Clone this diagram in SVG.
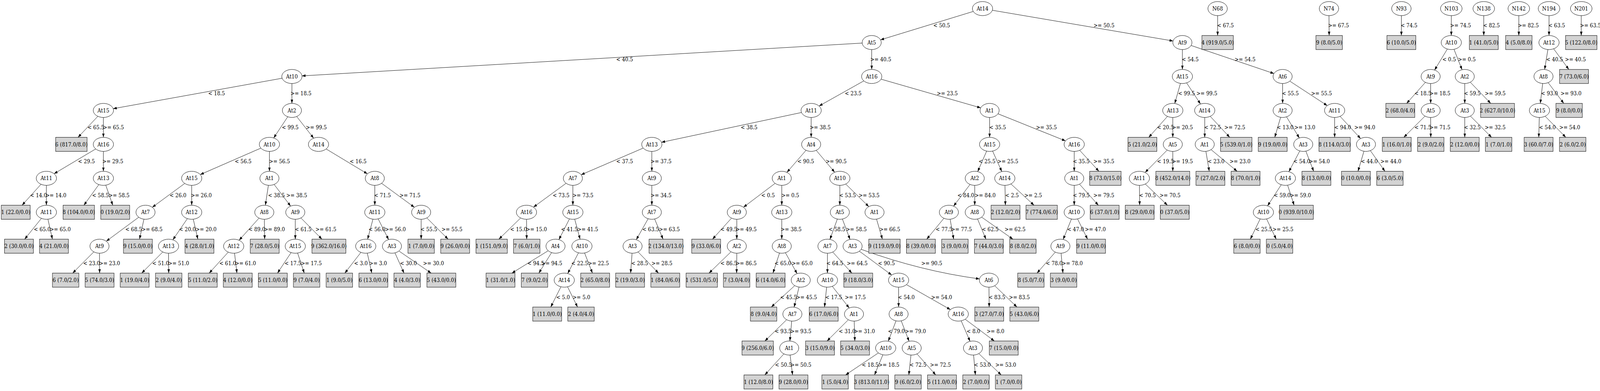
<svg xmlns="http://www.w3.org/2000/svg" width="4519" height="1001" viewBox="0 0 4519 1001">
<style>
text{font-family:"DejaVu Serif","Liberation Serif",serif;font-size:14px;fill:#000}
.n ellipse{fill:#fff;stroke:#000;stroke-width:1}
.n text,.l text{text-anchor:middle}
.l rect{fill:#d3d3d3;stroke:#000;stroke-width:1}
#edges path{fill:none;stroke:#000;stroke-width:1;marker-end:url(#ah)}
</style>
<defs>
<marker id="ah" markerWidth="10" markerHeight="7" refX="10" refY="3.5" orient="auto" markerUnits="userSpaceOnUse"><path d="M0,0 L10,3.5 L0,7 z" fill="#000"/></marker>
</defs>
<rect width="4519" height="1001" fill="#fff"/>
<g id="diagram" transform="scale(0.9064 1)">
<g id="edges">
<path d="M2748.8,29.3 L2486.9,102"/>
<path d="M2802.8,26.3 L3313.2,104.9"/>
<path d="M2435.1,110.3 L853,194.3"/>
<path d="M2462,126.9 L2462,177.8"/>
<path d="M3339.5,126.9 L3339.5,177.8"/>
<path d="M3364,116.4 L3598.1,188.3"/>
<path d="M796.8,200.3 L319.7,278.2"/>
<path d="M824.5,213.8 L824.5,264.7"/>
<path d="M2439.7,207.1 L2313.3,271.4"/>
<path d="M2488.4,202.7 L2769.9,276.1"/>
<path d="M3334,213.5 L3317.9,265"/>
<path d="M3351.4,212.2 L3390.7,266.3"/>
<path d="M3622.6,213.8 L3622.6,264.7"/>
<path d="M3642.8,207.7 L3748.7,270.4"/>
<path d="M276.3,297.8 L220.3,351.6"/>
<path d="M292,300.7 L292,351.6"/>
<path d="M812.7,298.9 L773,353.2"/>
<path d="M838,298.3 L885.9,353.8"/>
<path d="M2263.7,288 L1868.3,364.3"/>
<path d="M2291,300.7 L2291,351.6"/>
<path d="M2795,300.7 L2795,351.6"/>
<path d="M2818.7,291.3 L3009.2,360.6"/>
<path d="M3297.3,298 L3244.4,351.6"/>
<path d="M3312.4,300.7 L3312.4,351.6"/>
<path d="M3402.6,300.7 L3402.6,351.6"/>
<path d="M3418.1,297.8 L3473.2,351.6"/>
<path d="M3616.9,300.3 L3600.4,351.6"/>
<path d="M3633.6,299.1 L3669.8,353.2"/>
<path d="M3769.5,300.7 L3769.5,351.6"/>
<path d="M3784.9,297.9 L3842.8,354.7"/>
<path d="M270.3,381.3 L152.7,444.8"/>
<path d="M292,387.6 L292,438.5"/>
<path d="M736.8,379.2 L565.6,446.9"/>
<path d="M761,387.6 L761,438.5"/>
<path d="M921.2,381.4 L1037.7,445.1"/>
<path d="M1816.7,379.1 L1641.3,447.4"/>
<path d="M1841,387.6 L1841,438.5"/>
<path d="M2276.5,384.8 L2222.5,441.3"/>
<path d="M2305.3,384.9 L2357.5,441"/>
<path d="M2786.7,386.8 L2761.3,439.4"/>
<path d="M2803.5,386.8 L2829.5,439.3"/>
<path d="M3034,387.6 L3034,438.5"/>
<path d="M3049.4,384.8 L3103.8,438.5"/>
<path d="M3296.6,384.2 L3234.1,441.6"/>
<path d="M3312.4,387.6 L3312.4,438.5"/>
<path d="M3405.9,387.5 L3415.4,438.5"/>
<path d="M3420.5,383.1 L3494.1,438.5"/>
<path d="M3671.1,386.4 L3640.2,439.6"/>
<path d="M3688.2,386.9 L3710.3,438.5"/>
<path d="M3852.3,387.2 L3835.5,438.5"/>
<path d="M3870.4,385.6 L3911.6,438.5"/>
<path d="M115.8,471.8 L62.3,525.4"/>
<path d="M131,474.5 L131,525.4"/>
<path d="M279.1,472.6 L236.9,525.4"/>
<path d="M298.7,474 L318.5,525.4"/>
<path d="M521.8,469.6 L430.1,530.7"/>
<path d="M541.4,474.5 L541.4,525.4"/>
<path d="M758,474.4 L749.5,525.5"/>
<path d="M774.2,472.2 L820.8,527.7"/>
<path d="M1058.6,474.5 L1058.6,525.4"/>
<path d="M1077.7,469.2 L1170.4,530.7"/>
<path d="M1598.9,469.2 L1506.7,530.3"/>
<path d="M1618,474.5 L1618,525.4"/>
<path d="M1841,474.5 L1841,525.4"/>
<path d="M2189.2,469.4 L2099.8,530.5"/>
<path d="M2208,474.5 L2208,525.4"/>
<path d="M2372,474.5 L2372,525.4"/>
<path d="M2388.6,471.2 L2453.8,529"/>
<path d="M2739.8,472.2 L2693.2,527.7"/>
<path d="M2753,474.5 L2753,525.4"/>
<path d="M2838.4,474.5 L2839.6,525.4"/>
<path d="M2855.2,470.9 L2920.5,525.4"/>
<path d="M3034,474.5 L3034,525.4"/>
<path d="M3048.9,471.5 L3102.2,525.4"/>
<path d="M3218.2,474.5 L3218.8,525.4"/>
<path d="M3234.8,471.1 L3297.3,525.4"/>
<path d="M3618.7,472.9 L3580,527"/>
<path d="M3636.7,474.1 L3655.1,525.4"/>
<path d="M117,559.1 L69.6,612.3"/>
<path d="M135.4,561.2 L148,612.3"/>
<path d="M391.9,556.1 L300.1,617.6"/>
<path d="M406.6,561.2 L394,612.3"/>
<path d="M529.2,559.7 L488.2,614"/>
<path d="M545.9,561.2 L558.8,612.3"/>
<path d="M731.6,558.4 L675.2,615"/>
<path d="M746.7,561.4 L747.5,612.3"/>
<path d="M834,561.4 L834,612.3"/>
<path d="M849.9,558 L909.3,612.3"/>
<path d="M1053.4,561.1 L1038.2,612.6"/>
<path d="M1068.1,560.4 L1097.6,613.4"/>
<path d="M1189.5,561.4 L1189.5,612.3"/>
<path d="M1205.5,557.9 L1265.6,612.3"/>
<path d="M1470.4,558.1 L1409,612.3"/>
<path d="M1487.1,561.4 L1487.6,612.3"/>
<path d="M1608.4,560.4 L1578.5,613.5"/>
<path d="M1623.2,561.1 L1638.4,612.6"/>
<path d="M1830.6,560 L1797,613.7"/>
<path d="M1848.9,560.6 L1872.7,612.3"/>
<path d="M2066.1,558.4 L2012.4,612.3"/>
<path d="M2081,561.4 L2081,612.3"/>
<path d="M2208,561.4 L2208,612.3"/>
<path d="M2365,560.8 L2344,612.9"/>
<path d="M2379.2,560.7 L2400.8,612.9"/>
<path d="M2475.7,561 L2492.2,612.3"/>
<path d="M2666,558.8 L2617.4,612.3"/>
<path d="M2683.5,561.3 L2693.5,612.3"/>
<path d="M2760.9,560.6 L2784.7,612.3"/>
<path d="M2772.5,555.9 L2860.8,612.3"/>
<path d="M3026.2,560.7 L3002.7,613.1"/>
<path d="M3043.3,560.4 L3071.7,612.3"/>
<path d="M3559.2,560.5 L3531.4,612.3"/>
<path d="M3577.3,560.5 L3604.5,612.3"/>
<path d="M265,644.8 L205.2,699.2"/>
<path d="M281,648.3 L281.3,699.2"/>
<path d="M459.7,645.1 L400.2,699.2"/>
<path d="M476,648.3 L476.5,699.2"/>
<path d="M644.7,645.5 L590.8,699.2"/>
<path d="M662.4,648.2 L669.2,699.2"/>
<path d="M822.1,646.7 L783.7,699.2"/>
<path d="M840.5,647.8 L859.4,699.2"/>
<path d="M1019.4,646.1 L973.9,699.2"/>
<path d="M1037.4,648.1 L1050.1,699.2"/>
<path d="M1115.5,647.4 L1141.1,699.2"/>
<path d="M1126.7,642.6 L1217.7,699.2"/>
<path d="M1548.3,641.9 L1445.8,699.2"/>
<path d="M1557.8,646.7 L1521.9,699.2"/>
<path d="M1633.9,647.2 L1603.4,700.3"/>
<path d="M1651.1,647.7 L1673.3,699.2"/>
<path d="M1785.2,648.3 L1781.1,699.2"/>
<path d="M1802.2,645 L1859.9,699.2"/>
<path d="M2064.7,644.6 L2002.5,699.2"/>
<path d="M2081,648.3 L2080.5,699.2"/>
<path d="M2201.7,647.8 L2183.1,699.2"/>
<path d="M2218.3,647 L2251.3,700.6"/>
<path d="M2337,648.3 L2337,699.2"/>
<path d="M2352,645.3 L2406,699.2"/>
<path d="M2427.1,643 L2518.4,704.1"/>
<path d="M2432.2,638.3 Q2600.5,693.8 2766.4,714"/>
<path d="M2980.5,645.5 L2928.9,699.2"/>
<path d="M2996.9,648.3 L3002.1,699.2"/>
<path d="M1584.3,734.2 L1555.5,786.1"/>
<path d="M1603,734.2 L1631.2,786.1"/>
<path d="M2244.7,731.2 L2178.4,786.1"/>
<path d="M2256.8,734.9 L2242.8,786.4"/>
<path d="M2334.8,735.1 L2328.7,786.1"/>
<path d="M2350.7,733 L2398.5,788.5"/>
<path d="M2538,735.2 L2538,786.1"/>
<path d="M2560.1,728.6 L2684.4,792.7"/>
<path d="M2793.2,735.2 L2793.8,786.1"/>
<path d="M2809.4,731.5 L2872.3,786.1"/>
<path d="M2221.8,818.5 L2160.3,873"/>
<path d="M2236.1,822.1 L2230.9,873"/>
<path d="M2396,818.6 L2335.9,873"/>
<path d="M2412.6,822.1 L2414.4,873"/>
<path d="M2530.7,821.4 L2508.8,873.6"/>
<path d="M2545.4,821.4 L2567.6,873.7"/>
<path d="M2714.7,821.3 L2739.8,873.9"/>
<path d="M2726,817.3 L2808.4,873"/>
<path d="M2214,906 L2160,959.9"/>
<path d="M2231.5,909 L2238.5,959.9"/>
<path d="M2480.9,903.5 L2388.2,959.9"/>
<path d="M2493.6,908.3 L2469.9,959.9"/>
<path d="M2572.9,909 L2566.8,959.9"/>
<path d="M2589.8,906 L2642.9,959.9"/>
<path d="M2749.8,909 L2754.8,959.9"/>
<path d="M2764.5,905.3 L2827.8,959.9"/>
<path d="M3439,40 L3439,90.9"/>
<path d="M3753.5,40 L3754,90.9"/>
<path d="M3958,40 L3958,90.9"/>
<path d="M4099,40 L4099,90.9"/>
<path d="M4190.7,40 L4190.7,90.9"/>
<path d="M4289.7,40 L4289.7,90.9"/>
<path d="M4375,40 L4375,90.9"/>
<path d="M4466,40 L4466,90.9"/>
<path d="M4087.9,125.5 L4051.7,179.4"/>
<path d="M4106.6,126.3 L4129.4,178.5"/>
<path d="M4371.8,126.8 L4362.6,177.9"/>
<path d="M4388,124.9 L4431,177.8"/>
<path d="M4025.9,210.8 L3972.8,264.7"/>
<path d="M4040.7,213.8 L4040.7,264.7"/>
<path d="M4137,213.8 L4137,264.7"/>
<path d="M4152.6,210.5 L4210.4,264.7"/>
<path d="M4357.1,213.7 L4350.4,264.8"/>
<path d="M4372.5,211.5 L4416.8,264.7"/>
<path d="M4024.7,297.2 L3964.8,351.6"/>
<path d="M4040.7,300.7 L4041,351.6"/>
<path d="M4137,300.7 L4137,351.6"/>
<path d="M4153,297.2 L4212.8,351.6"/>
<path d="M4347.5,300.7 L4346.1,351.6"/>
<path d="M4364.1,297.6 L4422.4,351.6"/>
<g id="edge-labels">
<text x="2636" y="70.5">&lt; 50.5</text><text x="3088.5" y="70.5">&gt;= 50.5</text><text x="3437.5" y="70.5">&lt; 67.5</text><text x="3751" y="70.5">&gt;= 67.5</text><text x="3956" y="70.5">&lt; 74.5</text><text x="4095.7" y="70.5">&gt;= 74.5</text><text x="4188.8" y="70.5">&lt; 82.5</text><text x="4287" y="70.5">&gt;= 82.5</text><text x="4373" y="70.5">&lt; 63.5</text><text x="4462.5" y="70.5">&gt;= 63.5</text>
<text x="1740.5" y="157.4">&lt; 40.5</text><text x="2458" y="157.4">&gt;= 40.5</text><text x="3338" y="157.4">&lt; 54.5</text><text x="3487" y="157.4">&gt;= 54.5</text><text x="4073.7" y="157.4">&lt; 0.5</text><text x="4117.7" y="157.4">&gt;= 0.5</text><text x="4367" y="157.4">&lt; 40.5</text><text x="4420" y="157.4">&gt;= 40.5</text>
<text x="588" y="244.3">&lt; 18.5</text><text x="820.6" y="244.3">&gt;= 18.5</text><text x="2386" y="244.3">&lt; 23.5</text><text x="2646" y="244.3">&gt;= 23.5</text><text x="3327.4" y="244.3">&lt; 99.5</text><text x="3379" y="244.3">&gt;= 99.5</text><text x="3620.7" y="244.3">&lt; 55.5</text><text x="3703" y="244.3">&gt;= 55.5</text><text x="3995" y="244.3">&lt; 18.5</text><text x="4037.5" y="244.3">&gt;= 18.5</text><text x="4134.7" y="244.3">&lt; 59.5</text><text x="4193.4" y="244.3">&gt;= 59.5</text><text x="4352.5" y="244.3">&lt; 93.0</text><text x="4407.5" y="244.3">&gt;= 93.0</text>
<text x="247" y="331.2">&lt; 65.5</text><text x="291" y="331.2">&gt;= 65.5</text><text x="796" y="331.2">&lt; 99.5</text><text x="864" y="331.2">&gt;= 99.5</text><text x="2092" y="331.2">&lt; 38.5</text><text x="2287" y="331.2">&gt;= 38.5</text><text x="2794" y="331.2">&lt; 35.5</text><text x="2926" y="331.2">&gt;= 35.5</text><text x="3268" y="331.2">&lt; 20.5</text><text x="3310" y="331.2">&gt;= 20.5</text><text x="3401" y="331.2">&lt; 72.5</text><text x="3458" y="331.2">&gt;= 72.5</text><text x="3606" y="331.2">&lt; 13.0</text><text x="3655.6" y="331.2">&gt;= 13.0</text><text x="3768.5" y="331.2">&lt; 94.0</text><text x="3825" y="331.2">&gt;= 94.0</text><text x="3995" y="331.2">&lt; 71.5</text><text x="4037.5" y="331.2">&gt;= 71.5</text><text x="4134.7" y="331.2">&lt; 32.5</text><text x="4193.4" y="331.2">&gt;= 32.5</text><text x="4346.5" y="331.2">&lt; 54.0</text><text x="4404" y="331.2">&gt;= 54.0</text>
<text x="220.5" y="418.1">&lt; 29.5</text><text x="289" y="418.1">&gt;= 29.5</text><text x="663" y="418.1">&lt; 56.5</text><text x="760" y="418.1">&gt;= 56.5</text><text x="987.8" y="418.1">&lt; 16.5</text><text x="1740.5" y="418.1">&lt; 37.5</text><text x="1837.5" y="418.1">&gt;= 37.5</text><text x="2252" y="418.1">&lt; 90.5</text><text x="2332" y="418.1">&gt;= 90.5</text><text x="2764" y="418.1">&lt; 25.5</text><text x="2817" y="418.1">&gt;= 25.5</text><text x="3030" y="418.1">&lt; 35.5</text><text x="3088" y="418.1">&gt;= 35.5</text><text x="3268" y="418.1">&lt; 19.5</text><text x="3310" y="418.1">&gt;= 19.5</text><text x="3410.8" y="418.1">&lt; 23.0</text><text x="3472.8" y="418.1">&gt;= 23.0</text><text x="3653" y="418.1">&lt; 54.0</text><text x="3696.8" y="418.1">&gt;= 54.0</text><text x="3843.6" y="418.1">&lt; 44.0</text><text x="3898.6" y="418.1">&gt;= 44.0</text>
<text x="85" y="505">&lt; 14.0</text><text x="128.4" y="505">&gt;= 14.0</text><text x="260" y="505">&lt; 58.5</text><text x="306.8" y="505">&gt;= 58.5</text><text x="479" y="505">&lt; 26.0</text><text x="539" y="505">&gt;= 26.0</text><text x="757" y="505">&lt; 38.5</text><text x="808.5" y="505">&gt;= 38.5</text><text x="1056.6" y="505">&lt; 71.5</text><text x="1128.4" y="505">&gt;= 71.5</text><text x="1561" y="505">&lt; 73.5</text><text x="1617" y="505">&gt;= 73.5</text><text x="1837.5" y="505">&gt;= 34.5</text><text x="2150" y="505">&lt; 0.5</text><text x="2207" y="505">&gt;= 0.5</text><text x="2370" y="505">&lt; 53.5</text><text x="2425" y="505">&gt;= 53.5</text><text x="2704" y="505">&lt; 84.0</text><text x="2753" y="505">&gt;= 84.0</text><text x="2839" y="505">&lt; 2.5</text><text x="2893" y="505">&gt;= 2.5</text><text x="3030" y="505">&lt; 79.5</text><text x="3088" y="505">&gt;= 79.5</text><text x="3217" y="505">&lt; 70.5</text><text x="3275" y="505">&gt;= 70.5</text><text x="3597.5" y="505">&lt; 59.0</text><text x="3643.5" y="505">&gt;= 59.0</text>
<text x="95.5" y="591.9">&lt; 65.0</text><text x="140.6" y="591.9">&gt;= 65.0</text><text x="353.8" y="591.9">&lt; 68.5</text><text x="400" y="591.9">&gt;= 68.5</text><text x="505.5" y="591.9">&lt; 20.0</text><text x="552.6" y="591.9">&gt;= 20.0</text><text x="701.8" y="591.9">&lt; 89.0</text><text x="745.5" y="591.9">&gt;= 89.0</text><text x="832.7" y="591.9">&lt; 61.5</text><text x="891" y="591.9">&gt;= 61.5</text><text x="1041" y="591.9">&lt; 56.0</text><text x="1087" y="591.9">&gt;= 56.0</text><text x="1187.5" y="591.9">&lt; 55.5</text><text x="1247" y="591.9">&gt;= 55.5</text><text x="1441" y="591.9">&lt; 15.0</text><text x="1485.6" y="591.9">&gt;= 15.0</text><text x="1584.5" y="591.9">&lt; 41.5</text><text x="1630.5" y="591.9">&gt;= 41.5</text><text x="1814" y="591.9">&lt; 63.5</text><text x="1861" y="591.9">&gt;= 63.5</text><text x="2034.7" y="591.9">&lt; 49.5</text><text x="2078" y="591.9">&gt;= 49.5</text><text x="2205" y="591.9">&gt;= 38.5</text><text x="2340" y="591.9">&lt; 58.5</text><text x="2389" y="591.9">&gt;= 58.5</text><text x="2483.6" y="591.9">&gt;= 66.5</text><text x="2642.6" y="591.9">&lt; 77.5</text><text x="2686" y="591.9">&gt;= 77.5</text><text x="2773" y="591.9">&lt; 62.5</text><text x="2837.4" y="591.9">&gt;= 62.5</text><text x="3014" y="591.9">&lt; 47.0</text><text x="3064" y="591.9">&gt;= 47.0</text><text x="3545.6" y="591.9">&lt; 25.5</text><text x="3594" y="591.9">&gt;= 25.5</text>
<text x="235" y="678.8">&lt; 23.0</text><text x="280" y="678.8">&gt;= 23.0</text><text x="430" y="678.8">&lt; 51.0</text><text x="475" y="678.8">&gt;= 51.0</text><text x="619.4" y="678.8">&lt; 61.0</text><text x="664" y="678.8">&gt;= 61.0</text><text x="803.6" y="678.8">&lt; 17.5</text><text x="849.7" y="678.8">&gt;= 17.5</text><text x="1000" y="678.8">&lt; 3.0</text><text x="1042.6" y="678.8">&gt;= 3.0</text><text x="1129.8" y="678.8">&lt; 30.0</text><text x="1194.8" y="678.8">&gt;= 30.0</text><text x="1489.5" y="678.8">&lt; 94.5</text><text x="1529" y="678.8">&gt;= 94.5</text><text x="1613.5" y="678.8">&lt; 22.5</text><text x="1660.6" y="678.8">&gt;= 22.5</text><text x="1783" y="678.8">&lt; 28.5</text><text x="1840" y="678.8">&gt;= 28.5</text><text x="2034.7" y="678.8">&lt; 86.5</text><text x="2078" y="678.8">&gt;= 86.5</text><text x="2187.5" y="678.8">&lt; 65.0</text><text x="2236" y="678.8">&gt;= 65.0</text><text x="2334" y="678.8">&lt; 64.5</text><text x="2391.5" y="678.8">&gt;= 64.5</text><text x="2480" y="678.8">&lt; 90.5</text><text x="2602" y="678.8">&gt;= 90.5</text><text x="2953.7" y="678.8">&lt; 78.0</text><text x="2999" y="678.8">&gt;= 78.0</text>
<text x="1571" y="765.7">&lt; 5.0</text><text x="1617" y="765.7">&gt;= 5.0</text><text x="2203.5" y="765.7">&lt; 45.5</text><text x="2248.5" y="765.7">&gt;= 45.5</text><text x="2331" y="765.7">&lt; 17.5</text><text x="2386" y="765.7">&gt;= 17.5</text><text x="2536" y="765.7">&lt; 54.0</text><text x="2630" y="765.7">&gt;= 54.0</text><text x="2792" y="765.7">&lt; 83.5</text><text x="2849.5" y="765.7">&gt;= 83.5</text>
<text x="2188" y="852.6">&lt; 93.5</text><text x="2232.5" y="852.6">&gt;= 93.5</text><text x="2369" y="852.6">&lt; 31.0</text><text x="2412" y="852.6">&gt;= 31.0</text><text x="2508" y="852.6">&lt; 79.0</text><text x="2556" y="852.6">&gt;= 79.0</text><text x="2730" y="852.6">&lt; 8.0</text><text x="2786.5" y="852.6">&gt;= 8.0</text>
<text x="2189" y="939.5">&lt; 50.5</text><text x="2232.5" y="939.5">&gt;= 50.5</text><text x="2434" y="939.5">&lt; 18.5</text><text x="2481" y="939.5">&gt;= 18.5</text><text x="2569" y="939.5">&lt; 72.5</text><text x="2626.6" y="939.5">&gt;= 72.5</text><text x="2751" y="939.5">&lt; 53.0</text><text x="2811" y="939.5">&gt;= 53.0</text>
</g>
</g>
<g id="nodes">
<g id="n1" class="n"><ellipse cx="2775" cy="22" rx="28.6" ry="18"/><text x="2775" y="27">At14</text></g>
<g id="n2" class="n"><ellipse cx="2462" cy="108.9" rx="27" ry="18"/><text x="2462" y="113.9">At5</text></g>
<g id="n3" class="n"><ellipse cx="3339.5" cy="108.9" rx="27" ry="18"/><text x="3339.5" y="113.9">At9</text></g>
<g id="n4" class="n"><ellipse cx="824.5" cy="195.8" rx="28.6" ry="18"/><text x="824.5" y="200.8">At10</text></g>
<g id="n5" class="n"><ellipse cx="2462" cy="195.8" rx="28.6" ry="18"/><text x="2462" y="200.8">At16</text></g>
<g id="n6" class="n"><ellipse cx="3339.5" cy="195.8" rx="28.6" ry="18"/><text x="3339.5" y="200.8">At15</text></g>
<g id="n7" class="n"><ellipse cx="3622.6" cy="195.8" rx="27" ry="18"/><text x="3622.6" y="200.8">At6</text></g>
<g id="n8" class="n"><ellipse cx="292" cy="282.7" rx="28.6" ry="18"/><text x="292" y="287.7">At15</text></g>
<g id="n9" class="n"><ellipse cx="824.5" cy="282.7" rx="27" ry="18"/><text x="824.5" y="287.7">At2</text></g>
<g id="n10" class="n"><ellipse cx="2291" cy="282.7" rx="28.6" ry="18"/><text x="2291" y="287.7">At11</text></g>
<g id="n11" class="n"><ellipse cx="2795" cy="282.7" rx="27" ry="18"/><text x="2795" y="287.7">At1</text></g>
<g id="n12" class="n"><ellipse cx="3312.4" cy="282.7" rx="28.6" ry="18"/><text x="3312.4" y="287.7">At13</text></g>
<g id="n13" class="n"><ellipse cx="3402.6" cy="282.7" rx="28.6" ry="18"/><text x="3402.6" y="287.7">At14</text></g>
<g id="n14" class="n"><ellipse cx="3622.6" cy="282.7" rx="27" ry="18"/><text x="3622.6" y="287.7">At2</text></g>
<g id="n15" class="n"><ellipse cx="3769.5" cy="282.7" rx="28.6" ry="18"/><text x="3769.5" y="287.7">At11</text></g>
<g id="n16" class="l"><rect x="157.25" y="351.6" width="88.7" height="36"/><text x="201.6" y="374.6">6 (817.0/8.0)</text></g>
<g id="n17" class="n"><ellipse cx="292" cy="369.6" rx="28.6" ry="18"/><text x="292" y="374.6">At16</text></g>
<g id="n18" class="n"><ellipse cx="761" cy="369.6" rx="28.6" ry="18"/><text x="761" y="374.6">At10</text></g>
<g id="n19" class="n"><ellipse cx="899.6" cy="369.6" rx="28.6" ry="18"/><text x="899.6" y="374.6">At14</text></g>
<g id="n20" class="n"><ellipse cx="1841" cy="369.6" rx="28.6" ry="18"/><text x="1841" y="374.6">At13</text></g>
<g id="n21" class="n"><ellipse cx="2291" cy="369.6" rx="27" ry="18"/><text x="2291" y="374.6">At4</text></g>
<g id="n22" class="n"><ellipse cx="2795" cy="369.6" rx="28.6" ry="18"/><text x="2795" y="374.6">At15</text></g>
<g id="n23" class="n"><ellipse cx="3034" cy="369.6" rx="28.6" ry="18"/><text x="3034" y="374.6">At16</text></g>
<g id="n24" class="l"><rect x="3185.75" y="351.6" width="81.7" height="36"/><text x="3226.6" y="374.6">5 (21.0/2.0)</text></g>
<g id="n25" class="n"><ellipse cx="3312.4" cy="369.6" rx="27" ry="18"/><text x="3312.4" y="374.6">At5</text></g>
<g id="n26" class="n"><ellipse cx="3402.6" cy="369.6" rx="27" ry="18"/><text x="3402.6" y="374.6">At1</text></g>
<g id="n27" class="l"><rect x="3447.25" y="351.6" width="88.7" height="36"/><text x="3491.6" y="374.6">5 (539.0/1.0)</text></g>
<g id="n28" class="l"><rect x="3553.75" y="351.6" width="81.7" height="36"/><text x="3594.6" y="374.6">9 (19.0/0.0)</text></g>
<g id="n29" class="n"><ellipse cx="3680.8" cy="369.6" rx="27" ry="18"/><text x="3680.8" y="374.6">At3</text></g>
<g id="n30" class="l"><rect x="3725.15" y="351.6" width="88.7" height="36"/><text x="3769.5" y="374.6">8 (114.0/3.0)</text></g>
<g id="n31" class="n"><ellipse cx="3858" cy="369.6" rx="27" ry="18"/><text x="3858" y="374.6">At3</text></g>
<g id="n32" class="n"><ellipse cx="131" cy="456.5" rx="28.6" ry="18"/><text x="131" y="461.5">At11</text></g>
<g id="n33" class="n"><ellipse cx="292" cy="456.5" rx="28.6" ry="18"/><text x="292" y="461.5">At13</text></g>
<g id="n34" class="n"><ellipse cx="541.4" cy="456.5" rx="28.6" ry="18"/><text x="541.4" y="461.5">At15</text></g>
<g id="n35" class="n"><ellipse cx="761" cy="456.5" rx="27" ry="18"/><text x="761" y="461.5">At1</text></g>
<g id="n36" class="n"><ellipse cx="1058.6" cy="456.5" rx="27" ry="18"/><text x="1058.6" y="461.5">At8</text></g>
<g id="n37" class="n"><ellipse cx="1618" cy="456.5" rx="27" ry="18"/><text x="1618" y="461.5">At7</text></g>
<g id="n38" class="n"><ellipse cx="1841" cy="456.5" rx="27" ry="18"/><text x="1841" y="461.5">At9</text></g>
<g id="n39" class="n"><ellipse cx="2208" cy="456.5" rx="27" ry="18"/><text x="2208" y="461.5">At1</text></g>
<g id="n40" class="n"><ellipse cx="2372" cy="456.5" rx="28.6" ry="18"/><text x="2372" y="461.5">At10</text></g>
<g id="n41" class="n"><ellipse cx="2753" cy="456.5" rx="27" ry="18"/><text x="2753" y="461.5">At2</text></g>
<g id="n42" class="n"><ellipse cx="2838" cy="456.5" rx="28.6" ry="18"/><text x="2838" y="461.5">At14</text></g>
<g id="n43" class="n"><ellipse cx="3034" cy="456.5" rx="27" ry="18"/><text x="3034" y="461.5">At1</text></g>
<g id="n44" class="l"><rect x="3077.65" y="438.5" width="88.7" height="36"/><text x="3122" y="461.5">8 (73.0/15.0)</text></g>
<g id="n45" class="n"><ellipse cx="3218" cy="456.5" rx="28.6" ry="18"/><text x="3218" y="461.5">At11</text></g>
<g id="n46" class="l"><rect x="3264.55" y="438.5" width="95.7" height="36"/><text x="3312.4" y="461.5">8 (452.0/14.0)</text></g>
<g id="n47" class="l"><rect x="3377.85" y="438.5" width="81.7" height="36"/><text x="3418.7" y="461.5">7 (27.0/2.0)</text></g>
<g id="n48" class="l"><rect x="3477.15" y="438.5" width="81.7" height="36"/><text x="3518" y="461.5">8 (70.0/1.0)</text></g>
<g id="n49" class="n"><ellipse cx="3630.4" cy="456.5" rx="28.6" ry="18"/><text x="3630.4" y="461.5">At14</text></g>
<g id="n50" class="l"><rect x="3677.15" y="438.5" width="81.7" height="36"/><text x="3718" y="461.5">8 (13.0/0.0)</text></g>
<g id="n51" class="l"><rect x="3788.75" y="438.5" width="81.7" height="36"/><text x="3829.6" y="461.5">0 (10.0/0.0)</text></g>
<g id="n52" class="l"><rect x="3888.25" y="438.5" width="74.7" height="36"/><text x="3925.6" y="461.5">6 (3.0/5.0)</text></g>
<g id="n53" class="l"><rect x="3.55" y="525.4" width="81.7" height="36"/><text x="44.4" y="548.4">1 (22.0/0.0)</text></g>
<g id="n54" class="n"><ellipse cx="131" cy="543.4" rx="28.6" ry="18"/><text x="131" y="548.4">At11</text></g>
<g id="n55" class="l"><rect x="178.15" y="525.4" width="88.7" height="36"/><text x="222.5" y="548.4">8 (104.0/0.0)</text></g>
<g id="n56" class="l"><rect x="284.55" y="525.4" width="81.7" height="36"/><text x="325.4" y="548.4">0 (19.0/2.0)</text></g>
<g id="n57" class="n"><ellipse cx="411" cy="543.4" rx="27" ry="18"/><text x="411" y="548.4">At7</text></g>
<g id="n58" class="n"><ellipse cx="541.4" cy="543.4" rx="28.6" ry="18"/><text x="541.4" y="548.4">At12</text></g>
<g id="n59" class="n"><ellipse cx="746.5" cy="543.4" rx="27" ry="18"/><text x="746.5" y="548.4">At8</text></g>
<g id="n60" class="n"><ellipse cx="834" cy="543.4" rx="27" ry="18"/><text x="834" y="548.4">At9</text></g>
<g id="n61" class="n"><ellipse cx="1058.6" cy="543.4" rx="28.6" ry="18"/><text x="1058.6" y="548.4">At11</text></g>
<g id="n62" class="n"><ellipse cx="1189.5" cy="543.4" rx="27" ry="18"/><text x="1189.5" y="548.4">At9</text></g>
<g id="n63" class="n"><ellipse cx="1487" cy="543.4" rx="28.6" ry="18"/><text x="1487" y="548.4">At16</text></g>
<g id="n64" class="n"><ellipse cx="1618" cy="543.4" rx="28.6" ry="18"/><text x="1618" y="548.4">At15</text></g>
<g id="n65" class="n"><ellipse cx="1841" cy="543.4" rx="27" ry="18"/><text x="1841" y="548.4">At7</text></g>
<g id="n66" class="n"><ellipse cx="2081" cy="543.4" rx="27" ry="18"/><text x="2081" y="548.4">At9</text></g>
<g id="n67" class="n"><ellipse cx="2208" cy="543.4" rx="28.6" ry="18"/><text x="2208" y="548.4">At13</text></g>
<g id="n68" class="n"><ellipse cx="2372" cy="543.4" rx="27" ry="18"/><text x="2372" y="548.4">At5</text></g>
<g id="n69" class="n"><ellipse cx="2470" cy="543.4" rx="27" ry="18"/><text x="2470" y="548.4">At1</text></g>
<g id="n70" class="n"><ellipse cx="2680" cy="543.4" rx="27" ry="18"/><text x="2680" y="548.4">At9</text></g>
<g id="n71" class="n"><ellipse cx="2753" cy="543.4" rx="27" ry="18"/><text x="2753" y="548.4">At8</text></g>
<g id="n72" class="l"><rect x="2799.15" y="525.4" width="81.7" height="36"/><text x="2840" y="548.4">2 (12.0/2.0)</text></g>
<g id="n73" class="l"><rect x="2897.65" y="525.4" width="88.7" height="36"/><text x="2942" y="548.4">7 (774.0/6.0)</text></g>
<g id="n74" class="n"><ellipse cx="3034" cy="543.4" rx="28.6" ry="18"/><text x="3034" y="548.4">At10</text></g>
<g id="n75" class="l"><rect x="3079.15" y="525.4" width="81.7" height="36"/><text x="3120" y="548.4">6 (37.0/1.0)</text></g>
<g id="n76" class="l"><rect x="3178.15" y="525.4" width="81.7" height="36"/><text x="3219" y="548.4">8 (29.0/0.0)</text></g>
<g id="n77" class="l"><rect x="3277.15" y="525.4" width="81.7" height="36"/><text x="3318" y="548.4">0 (37.0/5.0)</text></g>
<g id="n78" class="n"><ellipse cx="3568.3" cy="543.4" rx="28.6" ry="18"/><text x="3568.3" y="548.4">At10</text></g>
<g id="n79" class="l"><rect x="3613.65" y="525.4" width="95.7" height="36"/><text x="3661.5" y="548.4">0 (939.0/10.0)</text></g>
<g id="n80" class="l"><rect x="12.75" y="612.3" width="81.7" height="36"/><text x="53.6" y="635.3">2 (30.0/0.0)</text></g>
<g id="n81" class="l"><rect x="111.55" y="612.3" width="81.7" height="36"/><text x="152.4" y="635.3">4 (21.0/0.0)</text></g>
<g id="n82" class="n"><ellipse cx="281" cy="630.3" rx="27" ry="18"/><text x="281" y="635.3">At9</text></g>
<g id="n83" class="l"><rect x="348.65" y="612.3" width="81.7" height="36"/><text x="389.5" y="635.3">9 (15.0/0.0)</text></g>
<g id="n84" class="n"><ellipse cx="476" cy="630.3" rx="28.6" ry="18"/><text x="476" y="635.3">At13</text></g>
<g id="n85" class="l"><rect x="522.55" y="612.3" width="81.7" height="36"/><text x="563.4" y="635.3">4 (28.0/1.0)</text></g>
<g id="n86" class="n"><ellipse cx="660" cy="630.3" rx="28.6" ry="18"/><text x="660" y="635.3">At12</text></g>
<g id="n87" class="l"><rect x="706.85" y="612.3" width="81.7" height="36"/><text x="747.7" y="635.3">7 (28.0/5.0)</text></g>
<g id="n88" class="n"><ellipse cx="834" cy="630.3" rx="28.6" ry="18"/><text x="834" y="635.3">At15</text></g>
<g id="n89" class="l"><rect x="881.15" y="612.3" width="95.7" height="36"/><text x="929" y="635.3">9 (362.0/16.0)</text></g>
<g id="n90" class="n"><ellipse cx="1033" cy="630.3" rx="28.6" ry="18"/><text x="1033" y="635.3">At16</text></g>
<g id="n91" class="n"><ellipse cx="1107" cy="630.3" rx="27" ry="18"/><text x="1107" y="635.3">At3</text></g>
<g id="n92" class="l"><rect x="1152.15" y="612.3" width="74.7" height="36"/><text x="1189.5" y="635.3">1 (7.0/0.0)</text></g>
<g id="n93" class="l"><rect x="1244.65" y="612.3" width="81.7" height="36"/><text x="1285.5" y="635.3">9 (26.0/0.0)</text></g>
<g id="n94" class="l"><rect x="1344.25" y="612.3" width="88.7" height="36"/><text x="1388.6" y="635.3">1 (151.0/9.0)</text></g>
<g id="n95" class="l"><rect x="1450.35" y="612.3" width="74.7" height="36"/><text x="1487.7" y="635.3">7 (6.0/1.0)</text></g>
<g id="n96" class="n"><ellipse cx="1569" cy="630.3" rx="27" ry="18"/><text x="1569" y="635.3">At4</text></g>
<g id="n97" class="n"><ellipse cx="1643.6" cy="630.3" rx="28.6" ry="18"/><text x="1643.6" y="635.3">At10</text></g>
<g id="n98" class="n"><ellipse cx="1786.6" cy="630.3" rx="27" ry="18"/><text x="1786.6" y="635.3">At3</text></g>
<g id="n99" class="l"><rect x="1833.15" y="612.3" width="95.7" height="36"/><text x="1881" y="635.3">2 (134.0/13.0)</text></g>
<g id="n100" class="l"><rect x="1953.65" y="612.3" width="81.7" height="36"/><text x="1994.5" y="635.3">9 (33.0/6.0)</text></g>
<g id="n101" class="n"><ellipse cx="2081" cy="630.3" rx="27" ry="18"/><text x="2081" y="635.3">At2</text></g>
<g id="n102" class="n"><ellipse cx="2208" cy="630.3" rx="27" ry="18"/><text x="2208" y="635.3">At8</text></g>
<g id="n103" class="l"><rect x="2453.65" y="612.3" width="88.7" height="36"/><text x="2498" y="635.3">9 (119.0/9.0)</text></g>
<g id="n104" class="n"><ellipse cx="2337" cy="630.3" rx="27" ry="18"/><text x="2337" y="635.3">At7</text></g>
<g id="n105" class="n"><ellipse cx="2408" cy="630.3" rx="27" ry="18"/><text x="2408" y="635.3">At3</text></g>
<g id="n106" class="l"><rect x="2560.15" y="612.3" width="81.7" height="36"/><text x="2601" y="635.3">8 (39.0/0.0)</text></g>
<g id="n107" class="l"><rect x="2659.65" y="612.3" width="74.7" height="36"/><text x="2697" y="635.3">3 (9.0/0.0)</text></g>
<g id="n108" class="l"><rect x="2752.15" y="612.3" width="81.7" height="36"/><text x="2793" y="635.3">7 (44.0/3.0)</text></g>
<g id="n109" class="l"><rect x="2851.65" y="612.3" width="74.7" height="36"/><text x="2889" y="635.3">8 (8.0/2.0)</text></g>
<g id="n110" class="n"><ellipse cx="2995" cy="630.3" rx="27" ry="18"/><text x="2995" y="635.3">At9</text></g>
<g id="n111" class="l"><rect x="3040.65" y="612.3" width="81.7" height="36"/><text x="3081.5" y="635.3">9 (11.0/0.0)</text></g>
<g id="n112" class="l"><rect x="3484.45" y="612.3" width="74.7" height="36"/><text x="3521.8" y="635.3">6 (8.0/0.0)</text></g>
<g id="n113" class="l"><rect x="3576.65" y="612.3" width="74.7" height="36"/><text x="3614" y="635.3">0 (5.0/4.0)</text></g>
<g id="n114" class="l"><rect x="148.05" y="699.2" width="74.7" height="36"/><text x="185.4" y="722.2">6 (7.0/2.0)</text></g>
<g id="n115" class="l"><rect x="240.45" y="699.2" width="81.7" height="36"/><text x="281.3" y="722.2">5 (74.0/3.0)</text></g>
<g id="n116" class="l"><rect x="339.55" y="699.2" width="81.7" height="36"/><text x="380.4" y="722.2">1 (19.0/4.0)</text></g>
<g id="n117" class="l"><rect x="439.15" y="699.2" width="74.7" height="36"/><text x="476.5" y="722.2">2 (9.0/4.0)</text></g>
<g id="n118" class="l"><rect x="531.85" y="699.2" width="81.7" height="36"/><text x="572.7" y="722.2">5 (11.0/2.0)</text></g>
<g id="n119" class="l"><rect x="630.75" y="699.2" width="81.7" height="36"/><text x="671.6" y="722.2">4 (12.0/0.0)</text></g>
<g id="n120" class="l"><rect x="729.65" y="699.2" width="81.7" height="36"/><text x="770.5" y="722.2">5 (11.0/0.0)</text></g>
<g id="n121" class="l"><rect x="828.65" y="699.2" width="74.7" height="36"/><text x="866" y="722.2">9 (7.0/4.0)</text></g>
<g id="n122" class="l"><rect x="921.15" y="699.2" width="74.7" height="36"/><text x="958.5" y="722.2">1 (9.0/5.0)</text></g>
<g id="n123" class="l"><rect x="1013.75" y="699.2" width="81.7" height="36"/><text x="1054.6" y="722.2">6 (13.0/0.0)</text></g>
<g id="n124" class="l"><rect x="1112.65" y="699.2" width="74.7" height="36"/><text x="1150" y="722.2">4 (4.0/3.0)</text></g>
<g id="n125" class="l"><rect x="1205.75" y="699.2" width="81.7" height="36"/><text x="1246.6" y="722.2">5 (43.0/0.0)</text></g>
<g id="n126" class="l"><rect x="1372.75" y="699.2" width="81.7" height="36"/><text x="1413.6" y="722.2">1 (31.0/1.0)</text></g>
<g id="n127" class="l"><rect x="1472.25" y="699.2" width="74.7" height="36"/><text x="1509.6" y="722.2">7 (9.0/2.0)</text></g>
<g id="n128" class="n"><ellipse cx="1593.7" cy="717.2" rx="28.6" ry="18"/><text x="1593.7" y="722.2">At14</text></g>
<g id="n129" class="l"><rect x="1640.15" y="699.2" width="81.7" height="36"/><text x="1681" y="722.2">2 (65.0/8.0)</text></g>
<g id="n130" class="l"><rect x="1738.75" y="699.2" width="81.7" height="36"/><text x="1779.6" y="722.2">2 (19.0/3.0)</text></g>
<g id="n131" class="l"><rect x="1838.15" y="699.2" width="81.7" height="36"/><text x="1879" y="722.2">1 (84.0/6.0)</text></g>
<g id="n132" class="l"><rect x="1937.65" y="699.2" width="88.7" height="36"/><text x="1982" y="722.2">1 (531.0/5.0)</text></g>
<g id="n133" class="l"><rect x="2043.15" y="699.2" width="74.7" height="36"/><text x="2080.5" y="722.2">7 (3.0/4.0)</text></g>
<g id="n134" class="l"><rect x="2135.75" y="699.2" width="81.7" height="36"/><text x="2176.6" y="722.2">6 (14.0/6.0)</text></g>
<g id="n135" class="n"><ellipse cx="2261.6" cy="717.2" rx="27" ry="18"/><text x="2261.6" y="722.2">At2</text></g>
<g id="n136" class="n"><ellipse cx="2337" cy="717.2" rx="28.6" ry="18"/><text x="2337" y="722.2">At10</text></g>
<g id="n137" class="l"><rect x="2383.15" y="699.2" width="81.7" height="36"/><text x="2424" y="722.2">9 (18.0/3.0)</text></g>
<g id="n138" class="n"><ellipse cx="2538" cy="717.2" rx="28.6" ry="18"/><text x="2538" y="722.2">At15</text></g>
<g id="n139" class="n"><ellipse cx="2793" cy="717.2" rx="27" ry="18"/><text x="2793" y="722.2">At6</text></g>
<g id="n140" class="l"><rect x="2874.25" y="699.2" width="74.7" height="36"/><text x="2911.6" y="722.2">8 (5.0/7.0)</text></g>
<g id="n141" class="l"><rect x="2966.65" y="699.2" width="74.7" height="36"/><text x="3004" y="722.2">3 (9.0/0.0)</text></g>
<g id="n142" class="l"><rect x="1504.65" y="786.1" width="81.7" height="36"/><text x="1545.5" y="809.1">1 (11.0/0.0)</text></g>
<g id="n143" class="l"><rect x="1603.65" y="786.1" width="74.7" height="36"/><text x="1641" y="809.1">2 (4.0/4.0)</text></g>
<g id="n144" class="l"><rect x="2119.35" y="786.1" width="74.7" height="36"/><text x="2156.7" y="809.1">8 (9.0/4.0)</text></g>
<g id="n145" class="n"><ellipse cx="2238" cy="804.1" rx="27" ry="18"/><text x="2238" y="809.1">At7</text></g>
<g id="n146" class="l"><rect x="2285.65" y="786.1" width="81.7" height="36"/><text x="2326.5" y="809.1">6 (17.0/6.0)</text></g>
<g id="n147" class="n"><ellipse cx="2412" cy="804.1" rx="27" ry="18"/><text x="2412" y="809.1">At1</text></g>
<g id="n148" class="n"><ellipse cx="2538" cy="804.1" rx="27" ry="18"/><text x="2538" y="809.1">At8</text></g>
<g id="n149" class="n"><ellipse cx="2706.5" cy="804.1" rx="28.6" ry="18"/><text x="2706.5" y="809.1">At16</text></g>
<g id="n150" class="l"><rect x="2753.15" y="786.1" width="81.7" height="36"/><text x="2794" y="809.1">3 (27.0/7.0)</text></g>
<g id="n151" class="l"><rect x="2852.15" y="786.1" width="81.7" height="36"/><text x="2893" y="809.1">5 (43.0/6.0)</text></g>
<g id="n152" class="l"><rect x="2095.65" y="873" width="88.7" height="36"/><text x="2140" y="896">9 (256.0/6.0)</text></g>
<g id="n153" class="n"><ellipse cx="2229" cy="891" rx="27" ry="18"/><text x="2229" y="896">At1</text></g>
<g id="n154" class="l"><rect x="2275.15" y="873" width="81.7" height="36"/><text x="2316" y="896">3 (15.0/9.0)</text></g>
<g id="n155" class="l"><rect x="2374.15" y="873" width="81.7" height="36"/><text x="2415" y="896">5 (34.0/3.0)</text></g>
<g id="n156" class="n"><ellipse cx="2501.5" cy="891" rx="28.6" ry="18"/><text x="2501.5" y="896">At10</text></g>
<g id="n157" class="n"><ellipse cx="2575" cy="891" rx="27" ry="18"/><text x="2575" y="896">At5</text></g>
<g id="n158" class="n"><ellipse cx="2748" cy="891" rx="27" ry="18"/><text x="2748" y="896">At3</text></g>
<g id="n159" class="l"><rect x="2794.15" y="873" width="81.7" height="36"/><text x="2835" y="896">7 (15.0/0.0)</text></g>
<g id="n160" class="l"><rect x="2101.15" y="959.9" width="81.7" height="36"/><text x="2142" y="982.9">1 (12.0/8.0)</text></g>
<g id="n161" class="l"><rect x="2200.15" y="959.9" width="81.7" height="36"/><text x="2241" y="982.9">9 (28.0/0.0)</text></g>
<g id="n162" class="l"><rect x="2321.25" y="959.9" width="74.7" height="36"/><text x="2358.6" y="982.9">1 (5.0/4.0)</text></g>
<g id="n163" class="l"><rect x="2413.75" y="959.9" width="95.7" height="36"/><text x="2461.6" y="982.9">3 (813.0/11.0)</text></g>
<g id="n164" class="l"><rect x="2527.25" y="959.9" width="74.7" height="36"/><text x="2564.6" y="982.9">9 (6.0/2.0)</text></g>
<g id="n165" class="l"><rect x="2619.75" y="959.9" width="81.7" height="36"/><text x="2660.6" y="982.9">5 (11.0/0.0)</text></g>
<g id="n166" class="l"><rect x="2719.25" y="959.9" width="74.7" height="36"/><text x="2756.6" y="982.9">2 (7.0/0.0)</text></g>
<g id="n167" class="l"><rect x="2811.25" y="959.9" width="74.7" height="36"/><text x="2848.6" y="982.9">1 (7.0/0.0)</text></g>
<g id="r1" class="n"><ellipse cx="3439" cy="22" rx="27.4" ry="18"/><text x="3439" y="27">N68</text></g>
<g id="r1a" class="l"><rect x="3394.65" y="90.9" width="88.7" height="36"/><text x="3439" y="113.9">4 (919.0/5.0)</text></g>
<g id="r2" class="n"><ellipse cx="3753.5" cy="22" rx="27.4" ry="18"/><text x="3753.5" y="27">N74</text></g>
<g id="r2a" class="l"><rect x="3716.65" y="90.9" width="74.7" height="36"/><text x="3754" y="113.9">9 (8.0/5.0)</text></g>
<g id="r3" class="n"><ellipse cx="3958" cy="22" rx="27.5" ry="18"/><text x="3958" y="27">N93</text></g>
<g id="r3a" class="l"><rect x="3917.15" y="90.9" width="81.7" height="36"/><text x="3958" y="113.9">6 (10.0/5.0)</text></g>
<g id="r4" class="n"><ellipse cx="4099" cy="22" rx="30.5" ry="18"/><text x="4099" y="27">N103</text></g>
<g id="r5" class="n"><ellipse cx="4190.7" cy="22" rx="30.5" ry="18"/><text x="4190.7" y="27">N138</text></g>
<g id="r5a" class="l"><rect x="4149.85" y="90.9" width="81.7" height="36"/><text x="4190.7" y="113.9">1 (41.0/5.0)</text></g>
<g id="r6" class="n"><ellipse cx="4289.7" cy="22" rx="30.5" ry="18"/><text x="4289.7" y="27">N142</text></g>
<g id="r6a" class="l"><rect x="4252.35" y="90.9" width="74.7" height="36"/><text x="4289.7" y="113.9">4 (5.0/8.0)</text></g>
<g id="r7" class="n"><ellipse cx="4375" cy="22" rx="30.5" ry="18"/><text x="4375" y="27">N194</text></g>
<g id="r8" class="n"><ellipse cx="4466" cy="22" rx="30.5" ry="18"/><text x="4466" y="27">N201</text></g>
<g id="r8a" class="l"><rect x="4421.65" y="90.9" width="88.7" height="36"/><text x="4466" y="113.9">5 (122.0/8.0)</text></g>
<g id="r9" class="n"><ellipse cx="4099" cy="108.9" rx="28.6" ry="18"/><text x="4099" y="113.9">At10</text></g>
<g id="r10" class="n"><ellipse cx="4375" cy="108.9" rx="28.6" ry="18"/><text x="4375" y="113.9">At12</text></g>
<g id="r11" class="n"><ellipse cx="4040.7" cy="195.8" rx="27" ry="18"/><text x="4040.7" y="200.8">At9</text></g>
<g id="r12" class="n"><ellipse cx="4137" cy="195.8" rx="27" ry="18"/><text x="4137" y="200.8">At2</text></g>
<g id="r13" class="n"><ellipse cx="4359.4" cy="195.8" rx="27" ry="18"/><text x="4359.4" y="200.8">At8</text></g>
<g id="r13a" class="l"><rect x="4404.75" y="177.8" width="81.7" height="36"/><text x="4445.6" y="200.8">7 (73.0/6.0)</text></g>
<g id="r11a" class="l"><rect x="3914.15" y="264.7" width="81.7" height="36"/><text x="3955" y="287.7">2 (68.0/4.0)</text></g>
<g id="r14" class="n"><ellipse cx="4040.7" cy="282.7" rx="27" ry="18"/><text x="4040.7" y="287.7">At5</text></g>
<g id="r15" class="n"><ellipse cx="4137" cy="282.7" rx="27" ry="18"/><text x="4137" y="287.7">At3</text></g>
<g id="r12a" class="l"><rect x="4181.75" y="264.7" width="95.7" height="36"/><text x="4229.6" y="287.7">2 (627.0/10.0)</text></g>
<g id="r16" class="n"><ellipse cx="4348" cy="282.7" rx="28.6" ry="18"/><text x="4348" y="287.7">At15</text></g>
<g id="r13b" class="l"><rect x="4394.45" y="264.7" width="74.7" height="36"/><text x="4431.8" y="287.7">9 (8.0/0.0)</text></g>
<g id="r14a" class="l"><rect x="3904.15" y="351.6" width="81.7" height="36"/><text x="3945" y="374.6">1 (16.0/1.0)</text></g>
<g id="r14b" class="l"><rect x="4003.65" y="351.6" width="74.7" height="36"/><text x="4041" y="374.6">2 (9.0/2.0)</text></g>
<g id="r15a" class="l"><rect x="4096.15" y="351.6" width="81.7" height="36"/><text x="4137" y="374.6">2 (12.0/0.0)</text></g>
<g id="r15b" class="l"><rect x="4195.25" y="351.6" width="74.7" height="36"/><text x="4232.6" y="374.6">1 (7.0/1.0)</text></g>
<g id="r16a" class="l"><rect x="4304.75" y="351.6" width="81.7" height="36"/><text x="4345.6" y="374.6">3 (60.0/7.0)</text></g>
<g id="r16b" class="l"><rect x="4404.45" y="351.6" width="74.7" height="36"/><text x="4441.8" y="374.6">2 (6.0/2.0)</text></g>
</g>
</g>
</svg>
